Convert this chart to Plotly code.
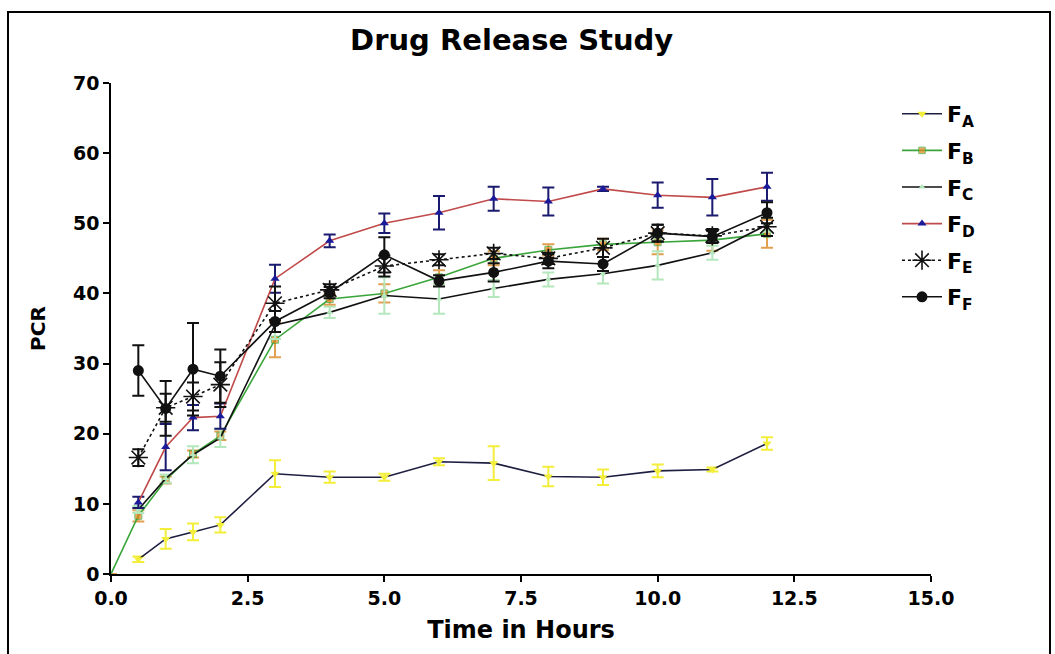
import plotly.graph_objects as go

time_h = [0.5, 1, 1.5, 2, 3, 4, 5, 6, 7, 8, 9, 10, 11, 12]
time_b = [0, 0.5, 1, 1.5, 2, 3, 4, 5, 6, 7, 8, 9, 10, 11, 12]

fa = [2.1, 5.0, 6.0, 7.0, 14.3, 13.8, 13.8, 16.0, 15.8, 13.9, 13.8, 14.7, 14.9, 18.6]
fa_err = [0.4, 1.4, 1.2, 1.1, 1.9, 0.8, 0.5, 0.5, 2.4, 1.4, 1.1, 0.9, 0.3, 0.9]

fb = [0, 8.3, 13.4, 17.1, 19.7, 33.4, 39.2, 40.0, 42.3, 45.0, 46.2, 47.0, 47.3, 47.6, 48.5]
fb_err = [0, 0.8, 0.5, 0.5, 0.6, 2.5, 0.8, 1.3, 1.0, 1.0, 0.8, 0.8, 1.7, 1.5, 2.0]

fc = [9.2, 13.6, 17.0, 19.4, 35.5, 37.3, 39.7, 39.2, 40.7, 42.0, 42.8, 44.0, 45.8, 49.8]
fc_err = [0.5, 0.6, 1.2, 1.3, 2.0, 0.8, 2.6, 2.1, 1.2, 1.0, 1.4, 2.0, 1.0, 1.0]

fd = [10.2, 18.1, 22.3, 22.5, 42.1, 47.5, 50.0, 51.5, 53.5, 53.1, 54.9, 54.0, 53.7, 55.2]
fd_err = [0.8, 3.3, 1.8, 1.8, 2.0, 0.9, 1.4, 2.4, 1.7, 2.0, 0.3, 1.8, 2.6, 2.0]

fe = [16.6, 23.7, 25.3, 27.0, 38.6, 40.5, 43.9, 44.8, 45.7, 45.0, 46.5, 48.6, 48.2, 49.5]
fe_err = [1.2, 2.0, 2.0, 3.2, 2.4, 0.8, 1.5, 0.8, 0.8, 0.8, 1.3, 1.2, 1.0, 1.3]

ff = [29.0, 23.6, 29.2, 28.2, 36.0, 40.1, 45.5, 41.8, 43.0, 44.6, 44.2, 48.6, 48.1, 51.5]
ff_err = [3.6, 3.9, 6.6, 3.8, 1.5, 0.8, 2.5, 0.8, 1.3, 1.0, 1.0, 1.2, 0.8, 1.5]

names = ["F<sub>A</sub>", "F<sub>B</sub>", "F<sub>C</sub>", "F<sub>D</sub>", "F<sub>E</sub>", "F<sub>F</sub>"]
x_ticks = [0, 2.5, 5, 7.5, 10, 12.5, 15]
y_ticks = [0, 10, 20, 30, 40, 50, 60, 70]

FONT = "DejaVu Sans"

series = [
    dict(x=time_h, y=fa, e=fa_err, line="#1e1e40", dash="solid", sym="triangle-down",
         mcol="#f2ee3a", msize=8, ecol="#f2ee3a", mline=None),
    dict(x=time_b, y=fb, e=fb_err, line="#3aa53a", dash="solid", sym="square",
         mcol="#e8861e", msize=[0] + [7] * 14, ecol="#e0a050", mline=None),
    dict(x=time_h, y=fc, e=fc_err, line="#111111", dash="solid", sym="triangle-up",
         mcol="#b4e8bc", msize=6, ecol="#b4e8bc", mline=None),
    dict(x=time_h, y=fd, e=fd_err, line="#c04a4a", dash="solid", sym="triangle-up",
         mcol="#1a1a9a", msize=8, ecol="#1a1a6e", mline=None),
    dict(x=time_h, y=fe, e=fe_err, line="#111111", dash="dot", sym="asterisk-open",
         mcol="#111111", msize=16, ecol="#111111", mline=1.6),
    dict(x=time_h, y=ff, e=ff_err, line="#111111", dash="solid", sym="circle",
         mcol="#111111", msize=11, ecol="#111111", mline=None),
]

fig = go.Figure()
for i, s in enumerate(series):
    marker = dict(symbol=s["sym"], color=s["mcol"], size=s["msize"])
    if s["mline"]:
        marker["line"] = dict(color=s["mcol"], width=s["mline"])
    fig.add_trace(go.Scatter(
        x=s["x"], y=s["y"], name=names[i], mode="lines+markers",
        legendgroup=f"g{i}",
        line=dict(color=s["line"], width=1.6, dash=s["dash"]),
        marker=marker,
        error_y=dict(type="data", array=s["e"], visible=True, color=s["ecol"],
                     thickness=2, width=6),
        cliponaxis=False,
    ))

W, H = 1055, 654
L, R, T, B = 111, 124, 83, 80
pw = W - L - R
ph = H - T - B


def px_x(p):
    return (p - L) / pw


def px_y(p):
    return (H - B - p) / ph


fig.add_shape(type="rect", xref="paper", yref="paper",
              x0=px_x(8), x1=px_x(1050), y0=px_y(670), y1=px_y(12),
              line=dict(color="black", width=2), fillcolor="rgba(0,0,0,0)")

axis_common = dict(
    showline=True, linecolor="black", linewidth=1.5, mirror=False,
    ticks="outside", ticklen=6, tickwidth=1.5, tickcolor="black",
    showgrid=False, zeroline=False,
    tickfont=dict(family=FONT, size=19, color="black", weight="bold"),
)

fig.update_layout(
    width=W, height=H,
    margin=dict(l=L, r=R, t=T, b=B),
    paper_bgcolor="white", plot_bgcolor="white",
    title=dict(text="Drug Release Study", x=0.485, xanchor="center",
               y=1 - 40 / H, yanchor="middle",
               font=dict(family=FONT, size=29, color="black", weight="bold")),
    xaxis=dict(range=[0, 15], tickvals=x_ticks, tickformat=".1f",
               title=dict(text="Time in Hours", standoff=14,
                          font=dict(family=FONT, size=24, color="black", weight="bold")),
               **axis_common),
    yaxis=dict(range=[0, 70], tickvals=y_ticks,
               title=dict(text="PCR", standoff=22,
                          font=dict(family=FONT, size=20, color="black", weight="bold")),
               **axis_common),
    legend=dict(x=px_x(897), y=px_y(93), xanchor="left", yanchor="top",
                bgcolor="rgba(0,0,0,0)", tracegroupgap=5, itemwidth=40,
                font=dict(family=FONT, size=22, color="black", weight="bold")),
    showlegend=True,
)

fig.write_html("out.html")
